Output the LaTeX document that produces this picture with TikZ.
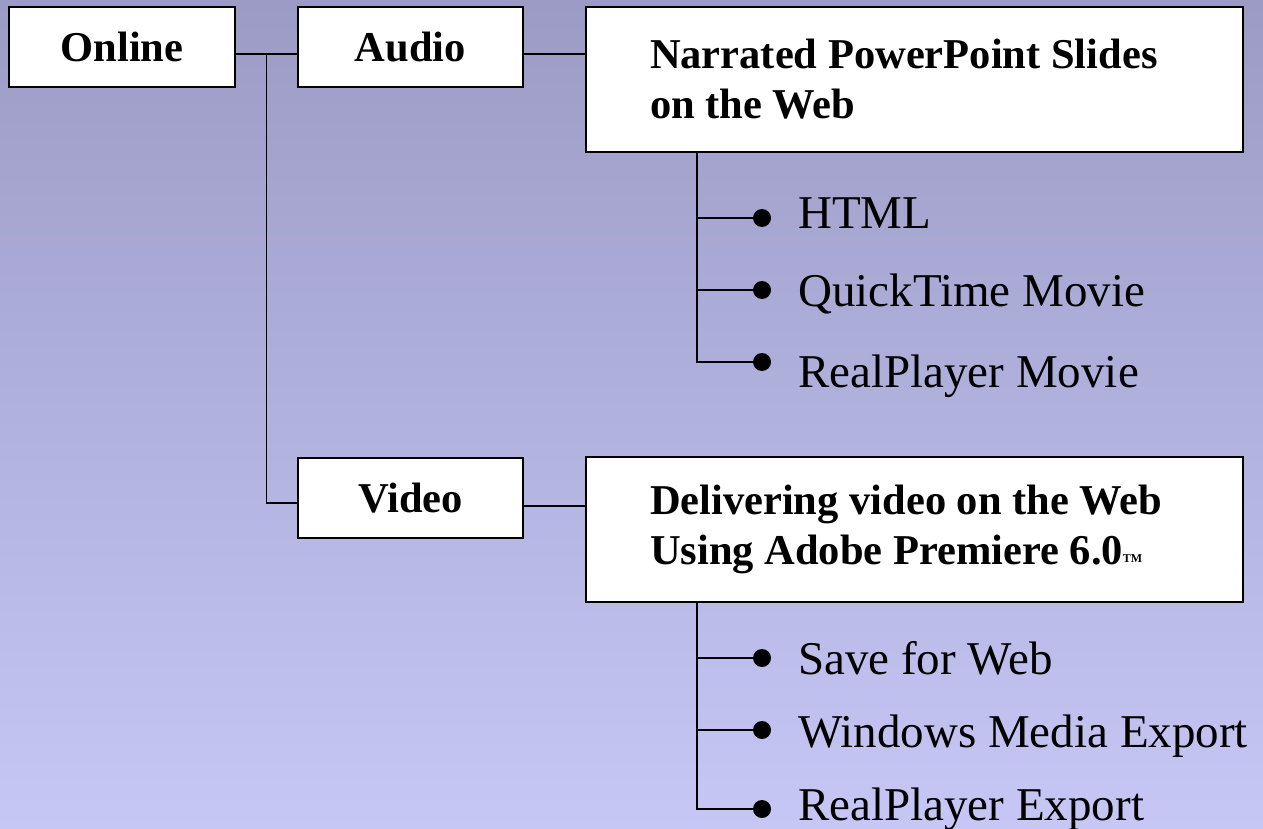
\documentclass[tikz,border=0pt]{standalone}
\usepackage{fontspec}
\setmainfont{Liberation Serif}
\usepackage{tikz}
\usetikzlibrary{calc,positioning}
\definecolor{bgtop}{RGB}{155,155,197}
\definecolor{bgbot}{RGB}{199,199,246}

\begin{document}
\begin{tikzpicture}[x=1pt,y=-1pt]
      \tikzstyle{bbox} = [draw=black, line width=1.8pt, fill=white, inner sep=0pt, align=flush left, font=\fontsize{42.5}{50}\selectfont\bfseries]
      \tikzstyle{dot} = [circle, fill=black, inner sep=0pt, minimum size=18pt]
      \tikzstyle{item} = [anchor=base west, inner sep=0pt, font=\fontsize{47}{56}\selectfont]
      \tikzstyle{wire} = [line width=1.7pt, black]

      \shade[top color=bgtop, bottom color=bgbot] (0,0) rectangle (1263,829);
      \useasboundingbox (0,0) rectangle (1263,829);

      \node[bbox, minimum width=226pt, minimum height=80pt] (on) at (122,47) {Online};
      \node[bbox, minimum width=225pt, minimum height=80pt] (au) at (410.5,47) {Audio};
      \node[bbox, minimum width=225pt, minimum height=80pt] (vi) at (410.5,498) {Video};
      \node[bbox, text width=529pt, minimum width=657pt, minimum height=145pt] (nar) at (914.5,79.5) {Narrated PowerPoint Slides\\on the Web};
      \node[bbox, text width=529pt, minimum width=657pt, minimum height=145pt] (del) at (914.5,529.5) {Delivering video on the Web\\Using Adobe Premiere 6.0\raisebox{2.5pt}{\fontsize{12}{12}\selectfont TM}};

      \draw[wire] ([yshift=-7pt]on.east) -- ([yshift=-7pt]au.west);
      \draw[wire] ([yshift=-7pt]au.east) coordinate (a1) -- (a1 -| nar.west);
      \coordinate (jn) at ($(on.east)!0.5!(au.west)+(0,7)$);
      \draw[wire] (jn) |- ([yshift=-5pt]vi.west);
      \draw[wire] ([yshift=-8pt]vi.east) coordinate (v1) -- (v1 -| del.west);

      % audio formats
      \coordinate (tr1) at ([xshift=112pt]nar.south west);
      \node[dot] (b1) at (762,218) {};
      \node[dot] (b2) at (762,290) {};
      \node[dot] (b3) at (762,362) {};
      \node[item] (t1) at (798,229) {HTML};
      \node[item] (t2) at (798,306) {QuickTime Movie};
      \node[item] (t3) at (798,387) {RealPlayer Movie};
      \draw[wire] (tr1) |- (b1);
      \draw[wire] (tr1) |- (b2);
      \draw[wire] (tr1) |- (b3);

      % video formats
      \coordinate (tr2) at ([xshift=112pt]del.south west);
      \node[dot] (b4) at (762,658) {};
      \node[dot] (b5) at (762,730) {};
      \node[dot] (b6) at (762,809) {};
      \node[item] (t4) at (798,674) {Save for Web};
      \node[item] (t5) at (798,747) {Windows Media Export};
      \node[item] (t6) at (798,820) {RealPlayer Export};
      \draw[wire] (tr2) |- (b4);
      \draw[wire] (tr2) |- (b5);
      \draw[wire] (tr2) |- (b6);

    \end{tikzpicture}
\end{document}
